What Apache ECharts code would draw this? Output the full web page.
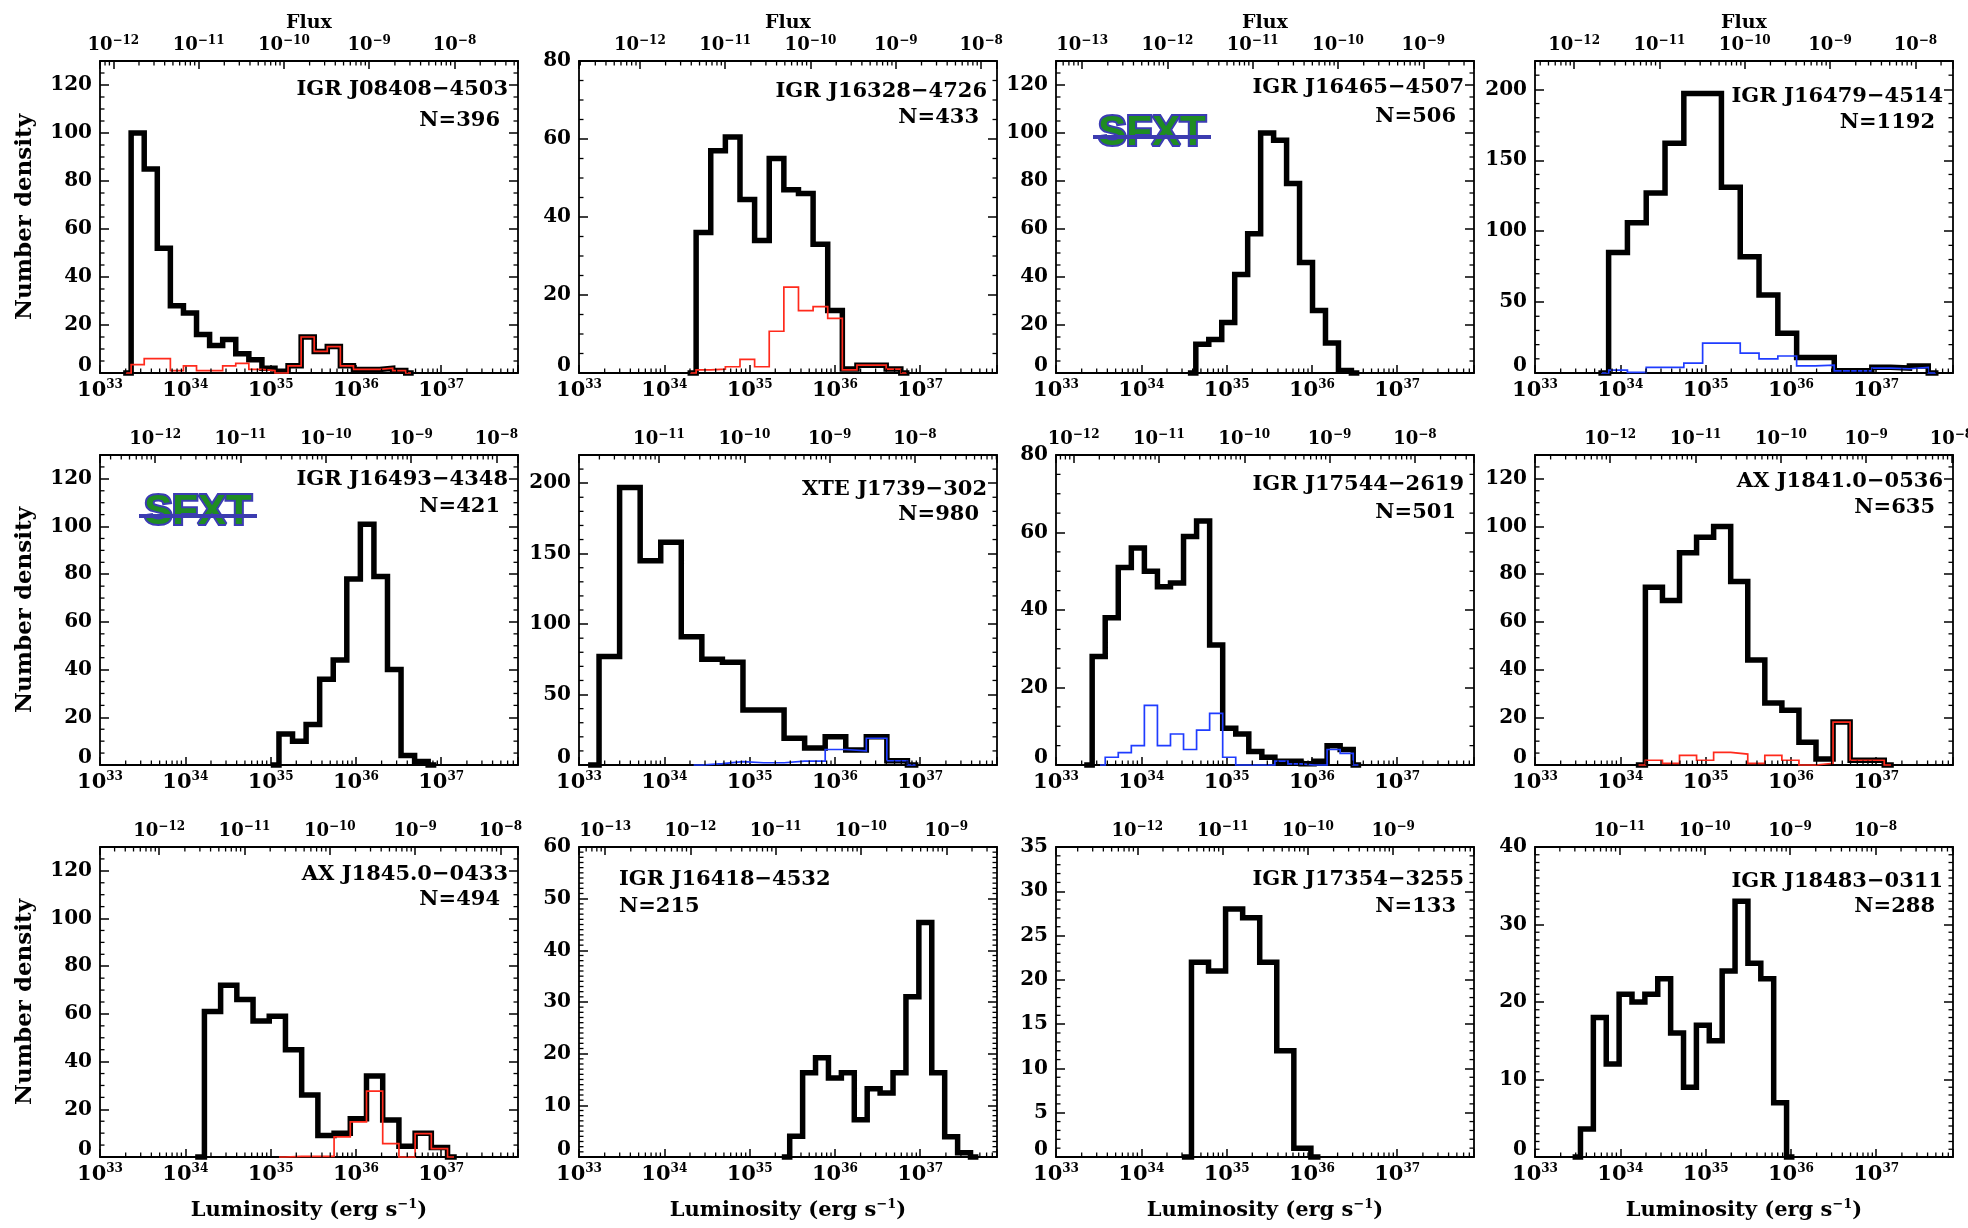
<!DOCTYPE html>
<html>
<head>
<meta charset="utf-8">
<script src="https://cdn.jsdelivr.net/npm/echarts@6/dist/echarts.min.js"></script>
<style>html,body{margin:0;padding:0;background:#fff}#chart{width:1968px;height:1228px}</style>
</head>
<body>
<div id="chart"></div>
<script>
// ---------------- data ----------------
const sourceNames = ['IGR J08408\u22124503','IGR J16328\u22124726','IGR J16465\u22124507','IGR J16479\u22124514',
  'IGR J16493\u22124348','XTE J1739\u2212302','IGR J17544\u22122619','AX J1841.0\u22120536',
  'AX J1845.0\u22120433','IGR J16418\u22124532','IGR J17354\u22123255','IGR J18483\u22120311'];
const sampleSizes = [396, 433, 506, 1192, 421, 980, 501, 635, 494, 215, 133, 288];
// log10(L) of the left edge of the first bin, and bin width in dex
const binStart = [33.365, 34.373, 34.639, 33.863, 35.098, 33.235, 33.424, 34.294, 34.224, 35.470, 34.588, 33.533];
const binWidth = [0.1533, 0.1714, 0.152, 0.2204, 0.159, 0.241, 0.153, 0.2, 0.19, 0.1514, 0.2, 0.151];
const totalCounts = [
  [100, 85, 52, 28, 25, 16, 11.5, 14, 8, 5.5, 2, 0.7, 3, 15, 9, 11, 3, 1.5, 1.5, 2, 1],
  [36, 57, 60.5, 44.5, 34, 55, 47, 46, 33, 16, 1, 2, 2, 1],
  [12, 14, 21, 41, 58, 100, 97, 79, 46, 26, 12.5, 1],
  [85, 106, 127, 162, 197, 197, 131, 82, 55, 28, 11, 11, 1.5, 1.5, 4, 3.5, 5],
  [13, 10, 17, 36, 44, 78, 101, 79, 40, 4, 1.5],
  [77, 197, 145, 158, 91, 75, 73, 39, 39, 19, 12, 20, 10.6, 20, 3],
  [28, 38, 51, 56, 50, 46, 47, 59, 63, 31, 9.5, 8, 3.5, 2, 1, 1, 0.3, 1, 5, 4],
  [74.5, 69, 89, 95.5, 100, 77, 44, 26, 23, 9.5, 2.5, 18, 2, 2],
  [61, 72, 66, 57, 59, 45, 26, 9, 10, 16, 34, 15.5, 4.5, 10, 4],
  [4, 16.3, 19.2, 15.3, 16.3, 7.2, 13.2, 12.4, 16.3, 31, 45.4, 16.3, 3.9, 0.8],
  [22, 21, 28, 27, 22, 12, 1],
  [3.6, 18, 12, 21, 20, 21, 23, 16, 9, 17, 15, 24, 33, 25, 23, 7]
];
const subsetCounts = [
  [3.5, 6, 6, 1, 3, 1, 1, 3, 4, 1.5, 1, 0, 3, 15, 9, 11, 3, 1.5, 1.5, 2, 1],
  [0.8, 1, 1.6, 3.5, 1.6, 10.7, 22, 16, 17, 14, 0.8, 2, 2, 1],
  null,
  [2, 0.5, 4, 4, 7, 21, 21, 14, 10, 12, 5, 5.5, 1.5, 1.5, 3.5, 3, 4],
  null,
  [1, 2.4, 1.6, 1.6, 2.8, 2.8, 11, 10, 19, 3],
  [2, 3.2, 5, 15.4, 5, 8, 4, 9, 13.3, 2, 0, 0, 0, 1, 0.3, 0, 0, 4, 3],
  [2, 0.7, 4, 2, 5.3, 4.6, 0.7, 4, 2, 0, 0.7, 18, 2, 2],
  [0.3, 0.3, 0.3, 8.4, 14.7, 27.6, 5.6, 0, 9.8, 3.5],
  null, null, null
];
const subsetFirstBin = [0, 0, 0, 0, 0, 5, 1, 0, 5, 0, 0, 0];
const subsetKind = ['red', 'red', null, 'blue', null, 'blue', 'blue', 'red', 'red', null, null, null];
// log10(L) - log10(Flux) for each source
const fluxOffset = [45.156, 45.714, 46.306, 45.459, 45.647, 44.938, 45.207, 45.882, 45.694, 46.306, 45.953, 44.99];
const yMax = [130, 80, 130, 220, 130, 220, 80, 130, 130, 60, 35, 40];
const yStep = [20, 20, 20, 50, 20, 50, 20, 20, 20, 10, 5, 10];
const yMinorStep = [5, 5, 5, 10, 5, 10, 5, 5, 5, 1, 1, 1];
const sfxtPanels = [2, 4];

// ---------------- layout / style ----------------
const W = 1968;
const colLeft = [100, 579, 1056, 1535];
const rowTop = [61, 455, 847];
const rowHeight = [312, 310, 310];
const boxW = 418;
const xMin = 33, xMax = 37.9;
const nameDy = [29, 31, 27, 36, 25, 35, 30, 27, 28, 33, 33, 35];
const nDy = [60, 57, 56, 62, 52, 60, 58, 53, 53, 60, 60, 60];
const SERIF = "'DejaVu Serif', 'Liberation Serif', serif";
const colors = { red: '#ff2a1c', blue: '#1f3cff' };

const isInt = v => Math.abs(v - Math.round(v)) < 1e-6;
const isMult = (v, s) => Math.abs(v / s - Math.round(v / s)) < 1e-6;

const tok = (size, lh, va) => ({ fontFamily: SERIF, fontWeight: 'bold', fontSize: size, lineHeight: lh, verticalAlign: va, color: '#000' });
const bottomRich = { b: tok(21, 22, 'bottom'), s: tok(12, 12, 'top') };
const topRich = { b: tok(18, 19, 'bottom'), s: tok(12, 12, 'top') };
const lumRich = { t: tok(21, 23, 'bottom'), s: tok(13, 13, 'top') };

function stepPoints(lo, w, vals, first) {
  const pts = [];
  const x0 = lo + first * w;
  pts.push([x0 - 0.4 * w, 0], [x0, 0]);
  vals.forEach((v, k) => { const a = x0 + k * w; pts.push([a, v], [a + w, v]); });
  const xe = x0 + vals.length * w;
  pts.push([xe, 0], [xe + 0.4 * w, 0]);
  return pts;
}

function minorTicks(i) {
  const d = [];
  const off = fluxOffset[i];
  for (let dec = 33; dec < 38; dec++) for (let k = 2; k <= 9; k++) {
    const x = dec + Math.log10(k); if (x < xMax) d.push([x, 0, 0]);
  }
  const fLo = Math.floor(xMin - off), fHi = Math.ceil(xMax - off);
  for (let dec = fLo; dec <= fHi; dec++) for (let k = 2; k <= 9; k++) {
    const x = dec + Math.log10(k) + off; if (x > xMin && x < xMax) d.push([x, 0, 1]);
  }
  const n = Math.round(yMax[i] / yMinorStep[i]);
  for (let j = 1; j < n; j++) {
    const y = j * yMinorStep[i];
    if (!isMult(y, yStep[i])) { d.push([xMin, y, 2], [xMax, y, 3]); }
  }
  return d;
}

function tickRenderer(i) {
  return function (params, api) {
    const side = api.value(2), L = 4.5;
    let p, s;
    if (side === 0) { p = api.coord([api.value(0), 0]); s = { x1: p[0], y1: p[1], x2: p[0], y2: p[1] - L }; }
    else if (side === 1) { p = api.coord([api.value(0), yMax[i]]); s = { x1: p[0], y1: p[1], x2: p[0], y2: p[1] + L }; }
    else if (side === 2) { p = api.coord([xMin, api.value(1)]); s = { x1: p[0], y1: p[1], x2: p[0] + L, y2: p[1] }; }
    else { p = api.coord([xMax, api.value(1)]); s = { x1: p[0], y1: p[1], x2: p[0] - L, y2: p[1] }; }
    return { type: 'line', shape: s, style: { stroke: '#000', lineWidth: 1.3 } };
  };
}

const grids = [], xAxes = [], yAxes = [], series = [], titles = [], graphics = [];
const axisLine = { show: true, onZero: false, lineStyle: { color: '#000', width: 1.8 } };

for (let i = 0; i < 12; i++) {
  const r = Math.floor(i / 4), c = i % 4;
  const left = colLeft[c], top = rowTop[r], h = rowHeight[r];
  grids.push({ left, top, width: boxW, height: h, containLabel: false, outerBoundsMode: 'none', show: false });

  // bottom luminosity axis
  xAxes.push({
    type: 'value', gridIndex: i, position: 'bottom', min: xMin, max: xMax, interval: 1,
    axisLine, splitLine: { show: false },
    axisTick: { show: true, inside: true, length: 8, lineStyle: { color: '#000', width: 1.5 } },
    axisLabel: { show: true, margin: 6, formatter: v => isInt(v) ? '{b|10}{s|' + Math.round(v) + '}' : '', rich: bottomRich },
    name: r === 2 ? '{t|Luminosity (erg s}{s|\u22121}{t|)}' : '', nameLocation: 'middle', nameGap: 41,
    nameTextStyle: { rich: lumRich }
  });
  // top flux axis
  const off = fluxOffset[i];
  xAxes.push({
    type: 'value', gridIndex: i, position: 'top', min: xMin - off, max: xMax - off,
    minInterval: 1, maxInterval: 1, splitNumber: 5,
    axisLine, splitLine: { show: false },
    axisTick: { show: true, inside: true, length: 8, lineStyle: { color: '#000', width: 1.5 } },
    axisLabel: { show: true, margin: 7, formatter: v => isInt(v) ? '{b|10}{s|\u2212' + Math.round(-v) + '}' : '', rich: topRich },
    name: r === 0 ? 'Flux' : '', nameLocation: 'middle', nameGap: 28,
    nameTextStyle: { fontFamily: SERIF, fontWeight: 'bold', fontSize: 19, color: '#000' }
  });
  // left y axis
  yAxes.push({
    type: 'value', gridIndex: i, position: 'left', min: 0, max: yMax[i], interval: yStep[i],
    axisLine, splitLine: { show: false },
    axisTick: { show: true, inside: true, length: 9, lineStyle: { color: '#000', width: 1.5 } },
    axisLabel: {
      show: true, margin: 8, fontFamily: SERIF, fontWeight: 'bold', fontSize: 20, color: '#000',
      formatter: v => isMult(v, yStep[i]) ? (v === 0 ? '{z|0}' : String(v)) : '',
      rich: { z: { fontFamily: SERIF, fontWeight: 'bold', fontSize: 20, color: '#000', padding: [0, 0, 14, 0] } }
    },
    name: c === 0 ? 'Number density' : '', nameLocation: 'middle', nameGap: 63,
    nameTextStyle: { fontFamily: SERIF, fontWeight: 'bold', fontSize: 23, color: '#000' }
  });
  // right mirror axis
  yAxes.push({
    type: 'value', gridIndex: i, position: 'right', min: 0, max: yMax[i], interval: yStep[i],
    axisLine, splitLine: { show: false },
    axisTick: { show: true, inside: true, length: 9, lineStyle: { color: '#000', width: 1.5 } },
    axisLabel: { show: false }
  });

  series.push({
    type: 'line', xAxisIndex: 2 * i, yAxisIndex: 2 * i, data: stepPoints(binStart[i], binWidth[i], totalCounts[i], 0),
    symbol: 'none', clip: false, silent: true, z: 3,
    lineStyle: { color: '#000', width: 5.5, join: 'miter', cap: 'square' }, emphasis: { disabled: true }
  });
  if (subsetCounts[i]) {
    series.push({
      type: 'line', xAxisIndex: 2 * i, yAxisIndex: 2 * i,
      data: stepPoints(binStart[i], binWidth[i], subsetCounts[i], subsetFirstBin[i]),
      symbol: 'none', clip: false, silent: true, z: 4,
      lineStyle: { color: colors[subsetKind[i]], width: 1.7, join: 'miter' }, emphasis: { disabled: true }
    });
  }
  series.push({
    type: 'custom', xAxisIndex: 2 * i, yAxisIndex: 2 * i, data: minorTicks(i),
    renderItem: tickRenderer(i), silent: true, z: 5
  });

  const ts = { fontFamily: SERIF, fontWeight: 'bold', fontSize: 21, color: '#000' };
  if (i === 9) {
    titles.push({ text: sourceNames[i], left: left + 40, top: top + nameDy[i] - 11, padding: 0, textStyle: ts });
    titles.push({ text: 'N=' + sampleSizes[i], left: left + 40, top: top + nDy[i] - 11, padding: 0, textStyle: ts });
  } else {
    const right = W - (left + boxW);
    titles.push({ text: sourceNames[i], right: right + 10, top: top + nameDy[i] - 11, padding: 0, textStyle: ts });
    titles.push({ text: 'N=' + sampleSizes[i], right: right + 18, top: top + nDy[i] - 11, padding: 0, textStyle: ts });
  }
}

// SFXT stamps
const sfxtPos = { 2: [1152, 133], 4: [198, 512] };
sfxtPanels.forEach(i => {
  const [cx, cy] = sfxtPos[i];
  graphics.push({
    type: 'text', x: cx, y: cy, z: 20,
    style: { text: 'SFXT', font: "bold 42px 'Liberation Sans', 'DejaVu Sans', sans-serif",
      fill: '#1f8c22', stroke: '#3c3cb4', lineWidth: 4, strokeFirst: true,
      align: 'center', verticalAlign: 'middle', textAlign: 'center', textVerticalAlign: 'middle' }
  });
  graphics.push({
    type: 'line', z: 21, shape: { x1: cx - 59, y1: cy + 4, x2: cx + 59, y2: cy + 4 },
    style: { stroke: '#3c3cb0', lineWidth: 4 }
  });
});

const chart = echarts.init(document.getElementById('chart'), null, { renderer: 'canvas' });
chart.setOption({
  backgroundColor: '#fff',
  animation: false,
  textStyle: { fontFamily: SERIF, color: '#000' },
  title: titles,
  grid: grids,
  xAxis: xAxes,
  yAxis: yAxes,
  series,
  graphic: graphics
});
</script>
</body>
</html>
